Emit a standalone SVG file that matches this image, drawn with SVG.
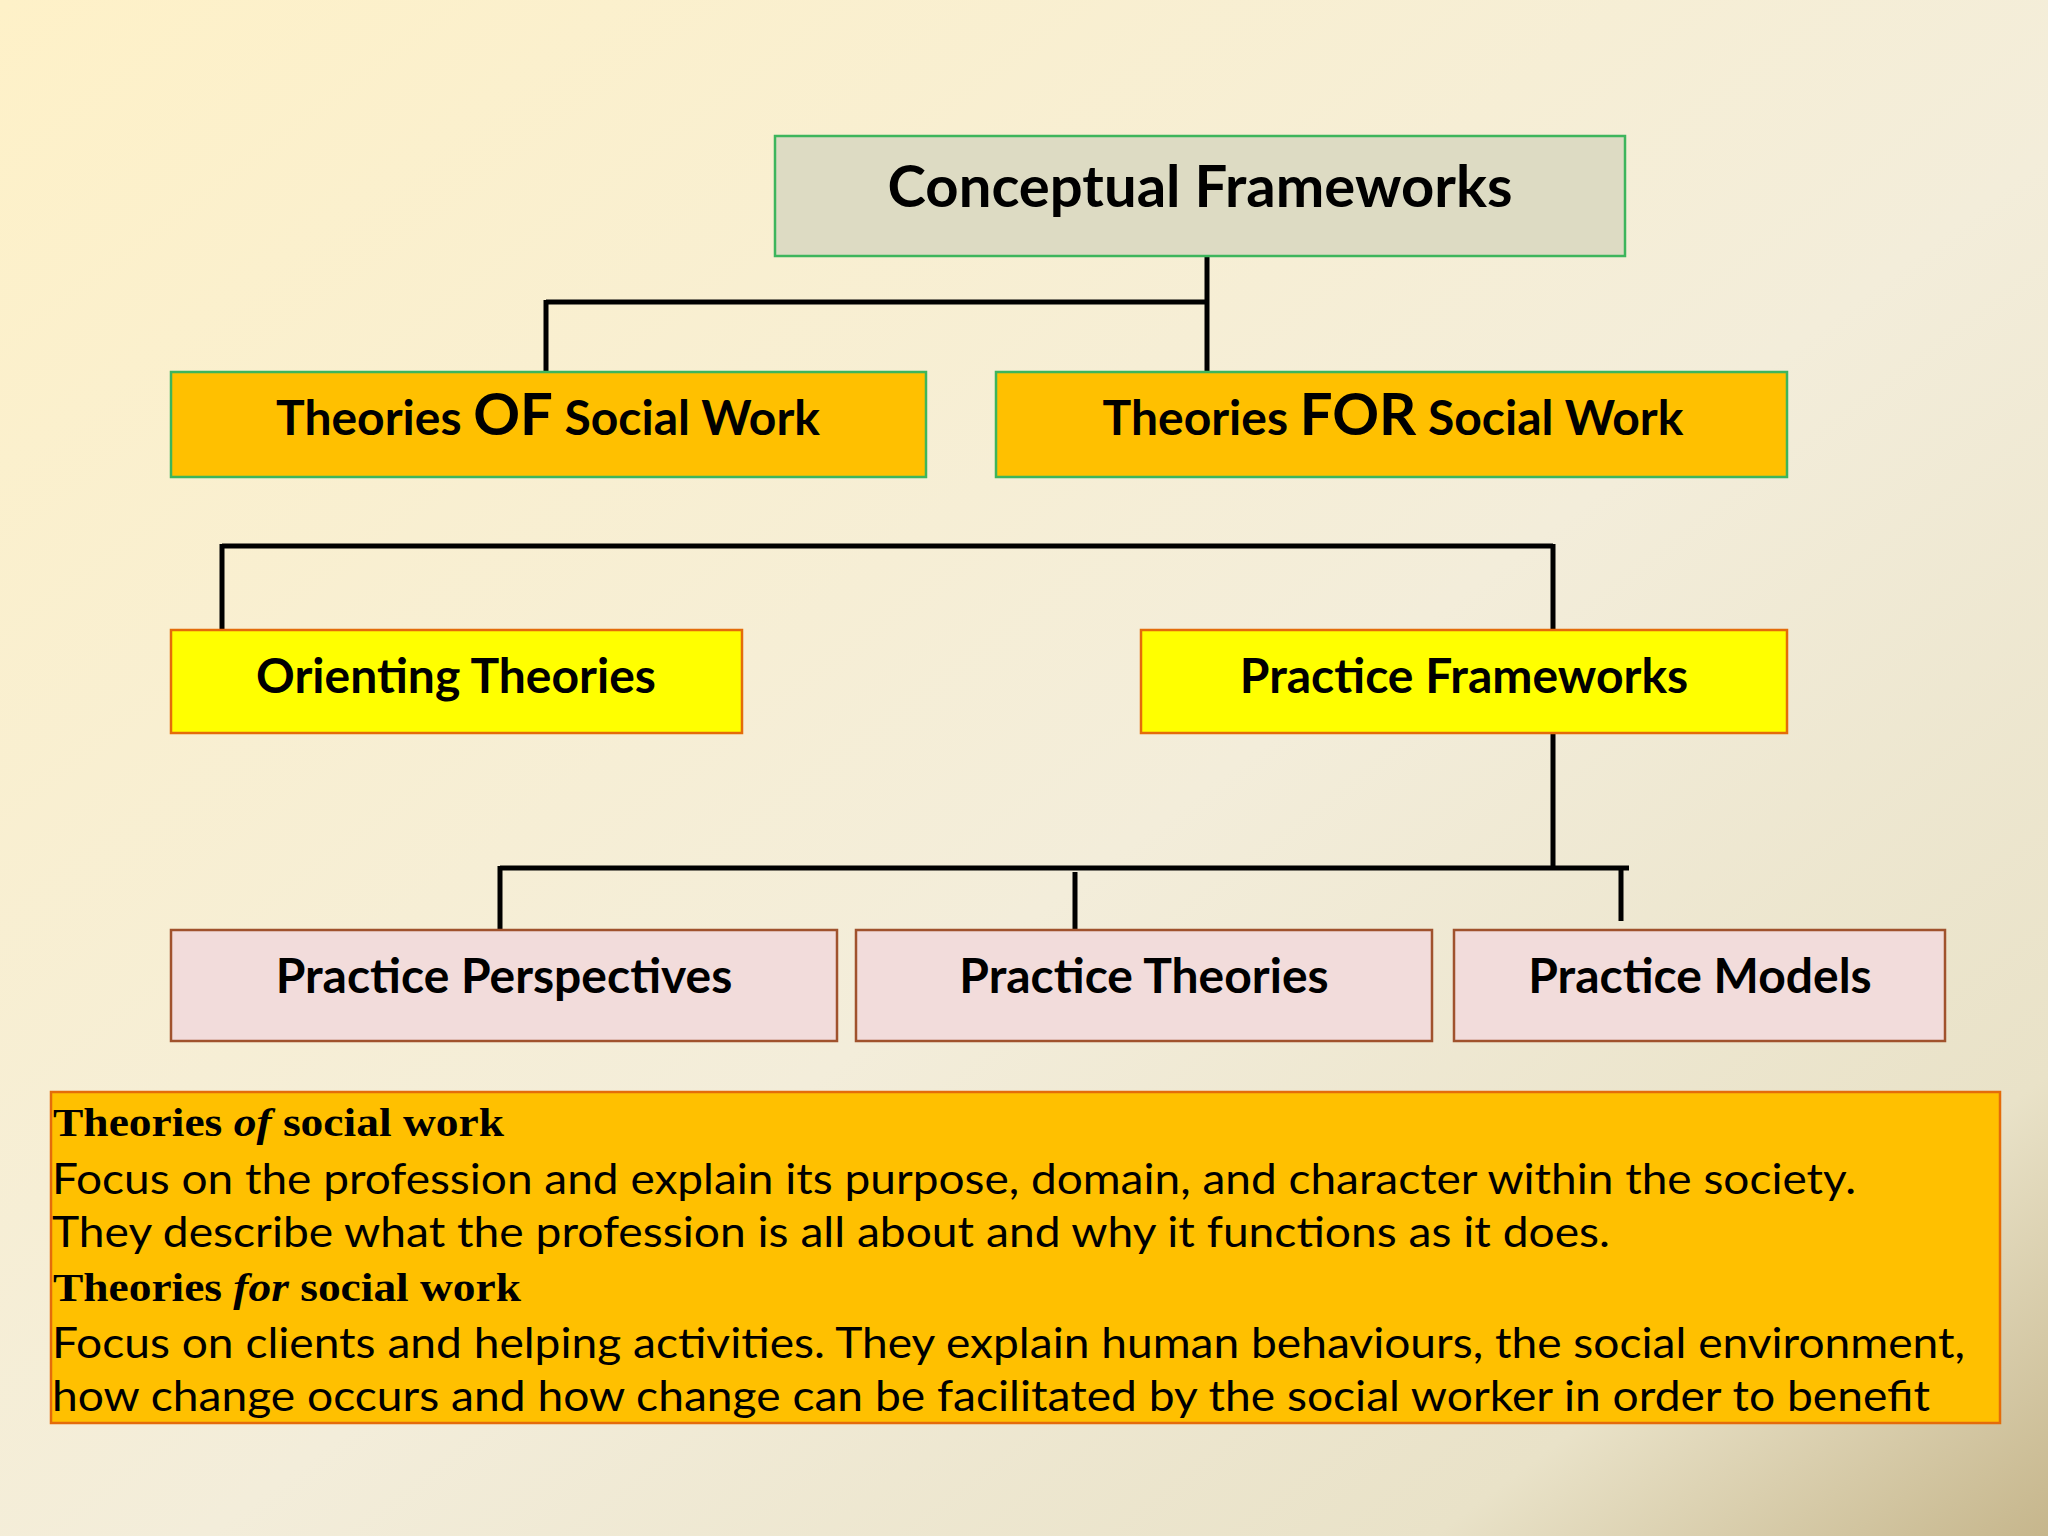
<svg xmlns="http://www.w3.org/2000/svg" width="2048" height="1536" viewBox="0 0 2048 1536">
<defs>
<linearGradient id="bg" x1="0" y1="0" x2="1" y2="1">
<stop offset="0" stop-color="#FEF1C8"/>
<stop offset="0.55" stop-color="#F3EDDA"/>
<stop offset="0.85" stop-color="#E9E2C8"/>
<stop offset="1" stop-color="#C6B68C"/>
</linearGradient>
<style>
.t{font-family:Lato,"Open Sans",sans-serif;font-weight:bold;fill:#000;text-anchor:middle}
.c{stroke:#000;stroke-width:5;fill:none}
.g{stroke:#3DB55C;stroke-width:2.5}
.o{stroke:#E46C0A;stroke-width:2.5}
.p{stroke:#A0522D;stroke-width:2.5;fill:#F2DCDB}
.b{font-family:Lato,"Open Sans",sans-serif;font-size:43px;fill:#000}
.h{font-family:"Liberation Serif",serif;font-weight:bold;font-size:40px;fill:#000}
</style>
</defs>
<rect width="2048" height="1536" fill="url(#bg)"/>
<g id="connectors">
<path class="c" d="M1207 256V372M546 302H1209M546 300V372M222 546H1553M222 544V630M1553 544V630M1553 733V868M500 868H1629M500 866V930M1075 872V930M1621 866V921"/>
</g>
<g id="n1"><rect class="g" x="775" y="136" width="850" height="120" fill="#DDDBC3"/><text class="t" x="1200" y="207" font-size="58">Conceptual Frameworks</text></g>
<g id="n2"><rect class="g" x="171" y="372" width="755" height="105" fill="#FFC000"/><text class="t" x="548" y="435" font-size="48">Theories <tspan font-size="58">OF</tspan> Social Work</text></g>
<g id="n3"><rect class="g" x="996" y="372" width="791" height="105" fill="#FFC000"/><text class="t" x="1393" y="435" font-size="48">Theories <tspan font-size="58">FOR</tspan> Social Work</text></g>
<g id="n4"><rect class="o" x="171" y="630" width="571" height="103" fill="#FFFF00"/><text class="t" x="456" y="693" font-size="48">Orienting Theories</text></g>
<g id="n5"><rect class="o" x="1141" y="630" width="646" height="103" fill="#FFFF00"/><text class="t" x="1464" y="693" font-size="48">Practice Frameworks</text></g>
<g id="n6"><rect class="p" x="171" y="930" width="666" height="111"/><text class="t" x="504" y="993" font-size="48">Practice Perspectives</text></g>
<g id="n7"><rect class="p" x="856" y="930" width="576" height="111"/><text class="t" x="1144" y="993" font-size="48">Practice Theories</text></g>
<g id="n8"><rect class="p" x="1454" y="930" width="491" height="111"/><text class="t" x="1700" y="993" font-size="48">Practice Models</text></g>
<g id="desc">
<rect x="51" y="1092" width="1949" height="331" fill="#FFC000" stroke="#E46C0A" stroke-width="2.5"/>
<text class="h" x="53" y="1136" textLength="451" lengthAdjust="spacingAndGlyphs">Theories <tspan font-style="italic">of</tspan> social work</text>
<text class="b" x="52" y="1194" textLength="1804" lengthAdjust="spacingAndGlyphs">Focus on the profession and explain its purpose, domain, and character within the society.</text>
<text class="b" x="52" y="1247" textLength="1558" lengthAdjust="spacingAndGlyphs">They describe what the profession is all about and why it functions as it does.</text>
<text class="h" x="53" y="1301" textLength="468" lengthAdjust="spacingAndGlyphs">Theories <tspan font-style="italic">for</tspan> social work</text>
<text class="b" x="52" y="1358" textLength="1913" lengthAdjust="spacingAndGlyphs">Focus on clients and helping activities. They explain human behaviours, the social environment,</text>
<text class="b" x="52" y="1411" textLength="1878" lengthAdjust="spacingAndGlyphs">how change occurs and how change can be facilitated by the social worker in order to benefit</text>
</g>
</svg>
